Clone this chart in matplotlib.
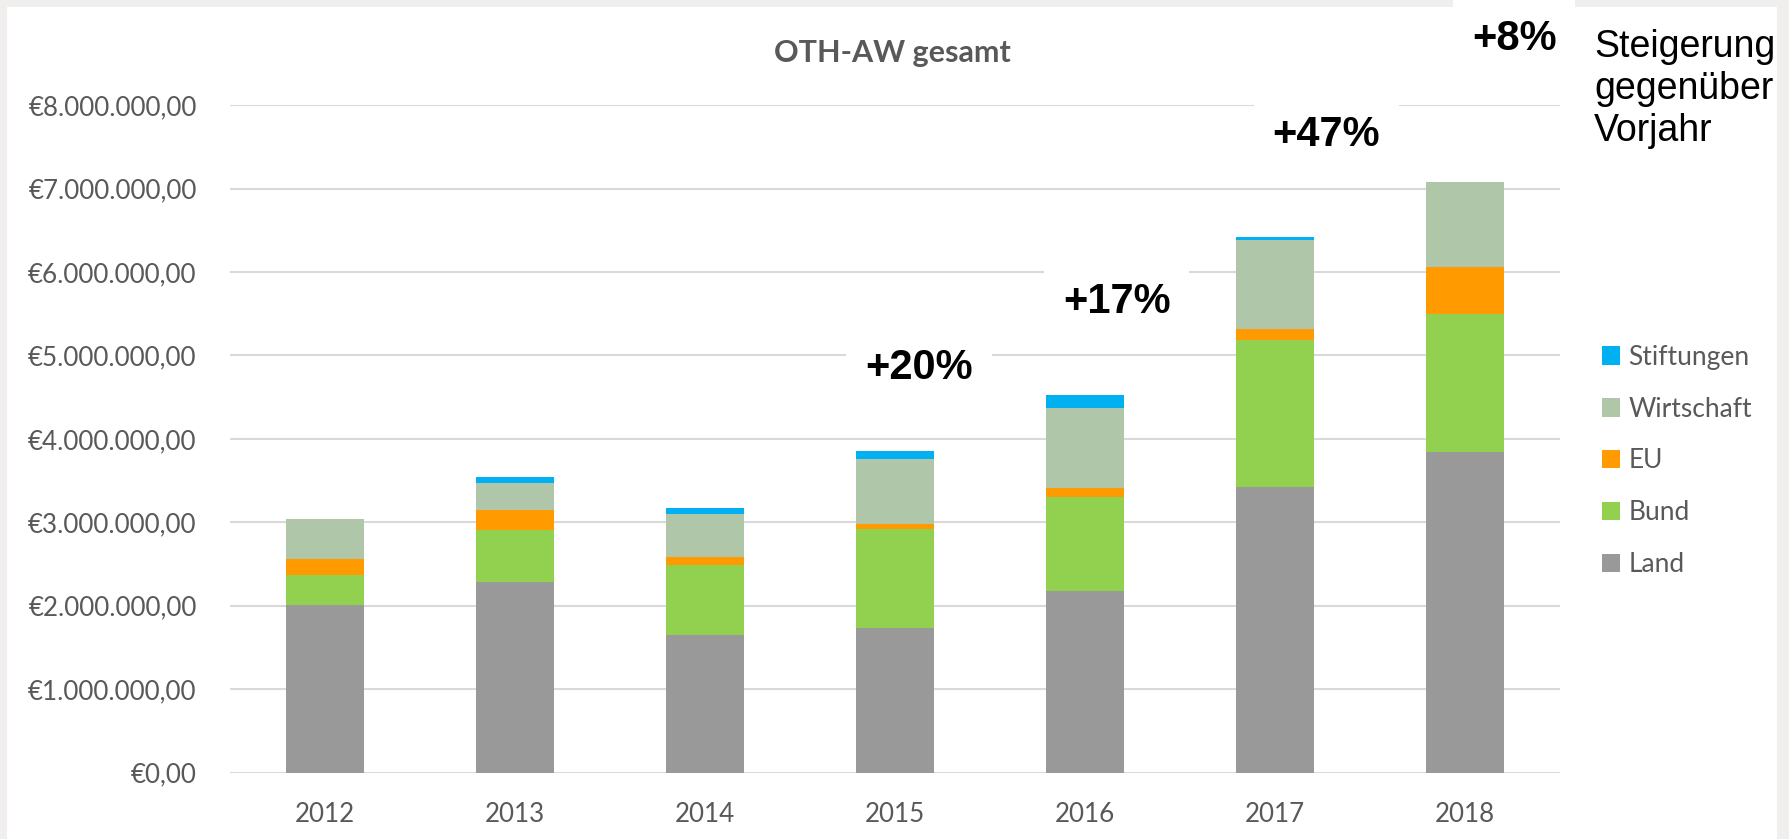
import matplotlib
matplotlib.use("Agg")
import matplotlib.pyplot as plt
from matplotlib.patches import Rectangle, Patch
import numpy as np

# ---- data ----
years = ["2012", "2013", "2014", "2015", "2016", "2017", "2018"]
land       = [2.006, 2.282, 1.647, 1.735, 2.178, 3.420, 3.840]
bund       = [0.367, 0.630, 0.846, 1.185, 1.127, 1.768, 1.656]
eu         = [0.184, 0.235, 0.088, 0.060, 0.108, 0.128, 0.560]
wirtschaft = [0.478, 0.323, 0.522, 0.773, 0.958, 1.068, 1.024]
stiftungen = [0.000, 0.068, 0.064, 0.100, 0.153, 0.032, 0.000]
series_names = ["Land", "Bund", "EU", "Wirtschaft", "Stiftungen"]
series_colors = ["#999999", "#92D050", "#FF9A00", "#AFC7A8", "#00B0F0"]

growth_labels = ["+20%", "+17%", "+47%", "+8%"]
growth_years = [3, 4, 5, 6]
yticks = [0, 1, 2, 3, 4, 5, 6, 7, 8]  # in millions

W, H = 1789, 839
DPI = 100
fig = plt.figure(figsize=(W / DPI, H / DPI), dpi=DPI)
fig.patch.set_facecolor("#F0EFED")
# white panel
fig.add_artist(Rectangle((7 / W, 0), (1777 - 7) / W, (H - 7) / H,
                         transform=fig.transFigure, facecolor="white",
                         edgecolor="none", zorder=-1))

ax = fig.add_axes([230 / W, (H - 772.5) / H, 1330 / W, 667.2 / H])
ax.set_facecolor("none")

scale = 1e6
x = np.arange(len(years))
bottom = np.zeros(len(years))
for vals, name, col in zip([land, bund, eu, wirtschaft, stiftungen],
                           series_names, series_colors):
    v = np.array(vals) * scale
    ax.bar(x, v, bottom=bottom, width=0.41, color=col, label=name,
           zorder=2, linewidth=0)
    bottom += v

ax.set_xlim(-0.5, len(years) - 0.5)
ax.set_ylim(0, 8 * scale)
ax.set_yticks([t * scale for t in yticks])


def euro(v):
    s = f"{int(round(v)):,}".replace(",", ".")
    return "€" + s + ",00"


ax.set_yticklabels([euro(t * scale) for t in yticks])
ax.set_xticks(x)
ax.set_xticklabels(years)
ax.grid(axis="y", color="#D9D9D9", linewidth=1.5, zorder=0.5)
ax.set_axisbelow(True)
for s in ax.spines.values():
    s.set_visible(False)
ax.tick_params(axis="both", length=0, colors="#595959", labelsize=18.7)
ax.tick_params(axis="y", pad=24)
ax.tick_params(axis="x", pad=21)
for lab in ax.get_xticklabels() + ax.get_yticklabels():
    lab.set_fontfamily("Lato")

# title
fig.text(892 / W, 1 - 53 / H, "OTH-AW gesamt", ha="center", va="center",
         fontsize=22, fontweight="bold", color="#595959", family="Lato")

# growth annotations
offsets_x = [0.126, 0.168, 0.27, 0.26]
offsets_y = [4.85, 5.64, 7.64, 8.795]
for lbl, yi, dx, yy in zip(growth_labels, growth_years, offsets_x, offsets_y):
    ax.text(yi + dx, yy * scale, lbl, ha="center", va="center",
            fontsize=30, fontweight="bold", color="black",
            family="Liberation Sans", zorder=5, clip_on=False,
            bbox=dict(boxstyle="square,pad=0.45", facecolor="white",
                      edgecolor="none"))

fig.text(1594 / W, 1 - 29 / H, "Steigerung\ngegenüber\nVorjahr",
         ha="left", va="top", fontsize=27, color="black",
         family="Liberation Sans", linespacing=1.22)

# legend
handles = [Patch(facecolor=c, edgecolor="none", label=n)
           for n, c in zip(series_names, series_colors)][::-1]
leg = fig.legend(handles=handles, loc="center left",
                 bbox_to_anchor=(1602 / W, (H - 461) / H),
                 frameon=False, handlelength=0.7,
                 handleheight=0.7, handletextpad=0.3, labelspacing=1.02,
                 borderpad=0, borderaxespad=0, prop={"family": "Lato", "size": 19})
for t in leg.get_texts():
    t.set_color("#595959")

fig.savefig("out.png", dpi=DPI, facecolor=fig.get_facecolor())
